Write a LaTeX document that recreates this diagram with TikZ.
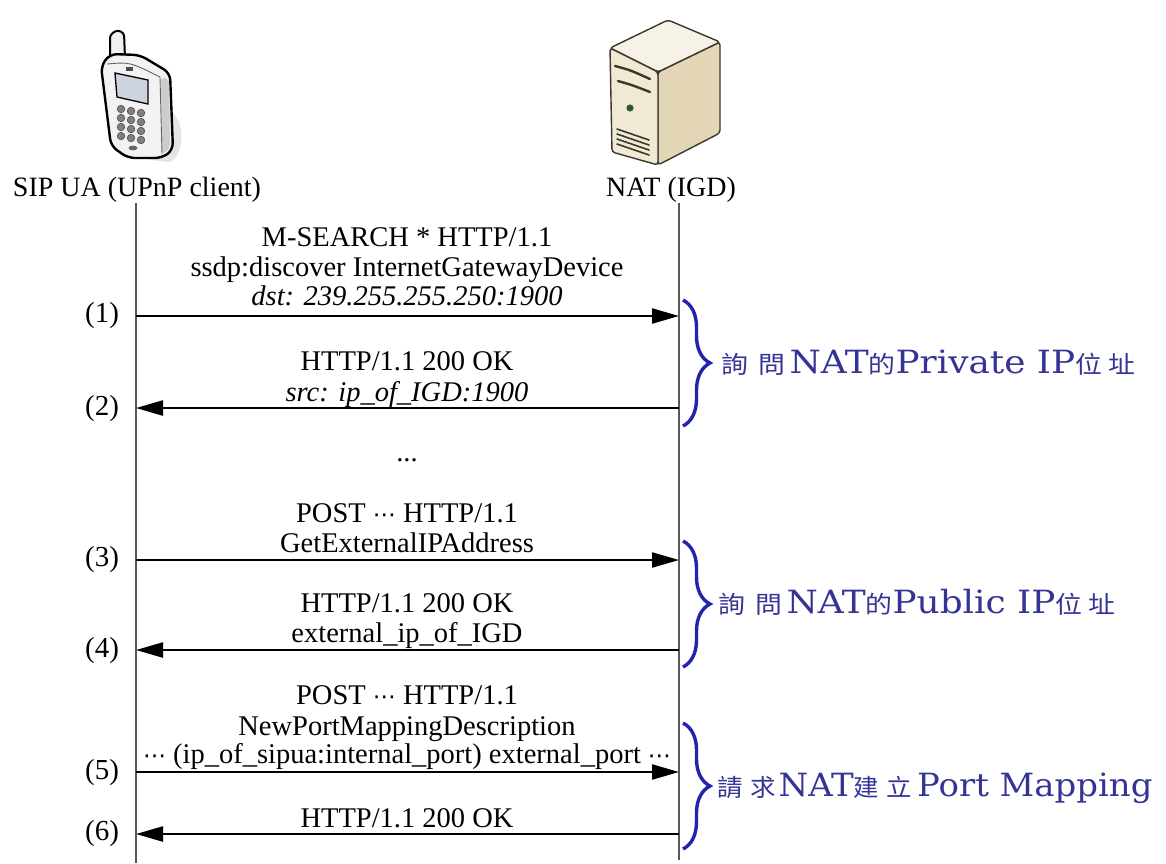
\documentclass[tikz,border=0pt]{standalone}
\usepackage{fontspec}
\usepackage{graphicx}
\setmainfont{Liberation Serif}
\newfontfamily\cjk{Noto Sans CJK TC}
\newfontfamily\lblfont{DejaVu Serif}
\newfontfamily\symfont{DejaVu Sans}
\usetikzlibrary{arrows.meta,decorations.pathreplacing}

\definecolor{notecol}{RGB}{52,52,150}
\definecolor{bracecol}{RGB}{35,35,175}
\definecolor{screencol}{RGB}{205,212,222}
\definecolor{srvtop}{RGB}{246,242,230}
\definecolor{srvfront}{RGB}{240,233,212}
\definecolor{srvside}{RGB}{226,214,182}
\definecolor{srvline}{RGB}{60,55,45}

\newcommand\zhtxt[1]{{\cjk\fontsize{24}{24}\selectfont #1}}
\newcommand\mdots{{\symfont\fontsize{23}{23}\selectfont ⋯}}
\newcommand\notetext[2][1.12]{\scalebox{#1}[1]{#2}}

\tikzset{
  msg/.style={font=\fontsize{28.5}{31}\selectfont, anchor=base, inner sep=0pt},
  num/.style={font=\fontsize{29}{31}\selectfont, inner sep=0pt},
  lane/.style={draw=black!65, line width=1.6pt},
  call/.style={line width=2.3pt, -{Triangle[length=27pt,width=15pt]}},
  brc/.style={draw=bracecol, line width=3.4pt, decorate,
              decoration={brace, amplitude=27pt, aspect=0.5}},
  note/.style={text=notecol, anchor=base west, inner sep=0pt,
               font=\lblfont\fontsize{32}{34}\selectfont},
}

\begin{document}
\begin{tikzpicture}[x=1pt,y=-1pt]
\useasboundingbox[fill=white] (0,0) rectangle (1166,863);

% ---------- mobile phone ----------
\fill[black!10] (166,108) .. controls (186,116) and (186,154) .. (170,162)
   -- (150,160) -- cycle;
\draw[line width=2pt, fill=black!6, rounded corners=3pt]
   (110,60) -- (110,35) -- (117,30) -- (124,33) -- (125,58) -- cycle;
\draw[line width=2.4pt, fill=black!5, rounded corners=7pt]
   (101,66) -- (110,54) -- (140,55) -- (170,73) -- (173,150)
   -- (162,158) -- (128,158) -- (111,146) -- cycle;
\fill[black!20, rounded corners=4pt]
   (161,77) -- (169,79) -- (170,148) -- (162,155) -- cycle;
\draw[line width=0.9pt, black!60] (107,64) .. controls (130,62) .. (160,77)
   -- (162,154);
\draw[line width=1.3pt, fill=screencol]
   (115,73) -- (148,80) -- (148,104) -- (117,97) -- cycle;
\fill[black!70] (126,67) rectangle (133,70.5);
\foreach \c in {0,1,2}
  \foreach \r in {0,1,2,3}
    \draw[black!70, line width=0.6pt, fill=black!50]
      ({121+10*\c},{109+9*\r+2*\c}) circle (3.8pt);
\fill[black!60] (133,148) ellipse (4.5pt and 2.4pt);

% ---------- server tower ----------
\draw[srvline, line width=1.4pt, fill=srvside, rounded corners=3pt]
   (658,72) -- (720,42) -- (720,133) -- (658,165) -- cycle;
\draw[srvline, line width=1.4pt, fill=srvtop, rounded corners=3pt]
   (610,48) -- (668,20) -- (720,42) -- (658,72) -- cycle;
\draw[srvline, line width=1.4pt, fill=srvfront, rounded corners=3pt]
   (610,48) -- (658,72) -- (658,165) -- (612,152) -- cycle;
\draw[srvline, line width=2.4pt, line cap=round]
   (615,66) .. controls (630,70) .. (650,79);
\draw[srvline, line width=2.4pt, line cap=round]
   (618,81) .. controls (632,85) .. (650,92);
\fill[black!70] (630,108) circle (3.6pt);
\fill[green!45!black] (630,108) circle (2pt);
\foreach \v in {0,1,2,3}
  \draw[srvline, line width=1.6pt, line cap=round]
     (617,{129+5*\v}) -- (649,{140+5*\v});

% ---------- participants and lifelines ----------
\node[msg, font=\fontsize{28}{31}\selectfont] (ua) at (137,196) {SIP UA (UPnP client)};
\node[msg, font=\fontsize{28}{31}\selectfont] (nat) at (671,196) {NAT (IGD)};
\coordinate (uaTop) at (136,203);
\coordinate (uaEnd) at (136,863);
\coordinate (natTop) at (679,203);
\coordinate (natEnd) at (679,860);
\draw[lane] (uaTop) -- (uaEnd);
\draw[lane] (natTop) -- (natEnd);

% ---------- message anchor points ----------
\foreach \k/\y in {1/316,2/408,3/560,4/650,5/772,6/834}{
  \coordinate (L\k) at (136,\y);
  \coordinate (R\k) at (679,\y);
}

% ---------- messages ----------
\node[msg] (m1a) at (407,246) {M-SEARCH * HTTP/1.1};
\node[msg] (m1b) at (407,276) {ssdp:discover InternetGatewayDevice};
\node[msg] (m1c) at (407,305) {\itshape dst: 239.255.255.250:1900};
\draw[call] (L1) -- (R1);

\node[msg] (m2a) at (407,370) {HTTP/1.1 200 OK};
\node[msg] (m2b) at (407,401) {\itshape src: ip\_of\_IGD:1900};
\draw[call] (R2) -- (L2);

\node[msg] (gap) at (407,461) {...};

\node[msg] (m3a) at (407,522) {POST \mdots\ HTTP/1.1};
\node[msg] (m3b) at (407,552) {GetExternalIPAddress};
\draw[call] (L3) -- (R3);

\node[msg] (m4a) at (407,612) {HTTP/1.1 200 OK};
\node[msg] (m4b) at (407,642) {external\_ip\_of\_IGD};
\draw[call] (R4) -- (L4);

\node[msg] (m5a) at (407,704) {POST \mdots\ HTTP/1.1};
\node[msg] (m5b) at (407,735) {NewPortMappingDescription};
\node[msg] (m5c) at (407,763) {\mdots\ (ip\_of\_sipua:internal\_port) external\_port \mdots};
\draw[call] (L5) -- (R5);

\node[msg] (m6a) at (407,827) {HTTP/1.1 200 OK};
\draw[call] (R6) -- (L6);

% ---------- step numbers ----------
\foreach \k/\y in {1/316,2/409,3/560,4/651,5/773,6/834}
  \node[num] (n\k) at (102,\y) {(\k)};

% ---------- braces and notes ----------
\coordinate (b1t) at (683,300);  \coordinate (b1b) at (683,426);
\coordinate (b2t) at (683,541);  \coordinate (b2b) at (683,667);
\coordinate (b3t) at (683,723);  \coordinate (b3b) at (683,849);
\draw[brc] (b1t) -- (b1b);
\draw[brc] (b2t) -- (b2b);
\draw[brc] (b3t) -- (b3b);

\node[note] (t1) at (721,373)
  {\notetext{\zhtxt{詢\hspace{9pt}問}\hspace{4pt}NAT\zhtxt{的}Private IP\zhtxt{位\hspace{6pt}址}}};
\node[note] (t2) at (718,613)
  {\notetext{\zhtxt{詢\hspace{9pt}問}\hspace{4pt}NAT\zhtxt{的}Public IP\zhtxt{位\hspace{6pt}址}}};
\node[note] (t3) at (717,796)
  {\notetext[1.06]{\zhtxt{請\hspace{7pt}求}\hspace{3pt}NAT\zhtxt{建\hspace{7pt}立}\hspace{5pt}Port Mapping}};
\end{tikzpicture}
\end{document}
